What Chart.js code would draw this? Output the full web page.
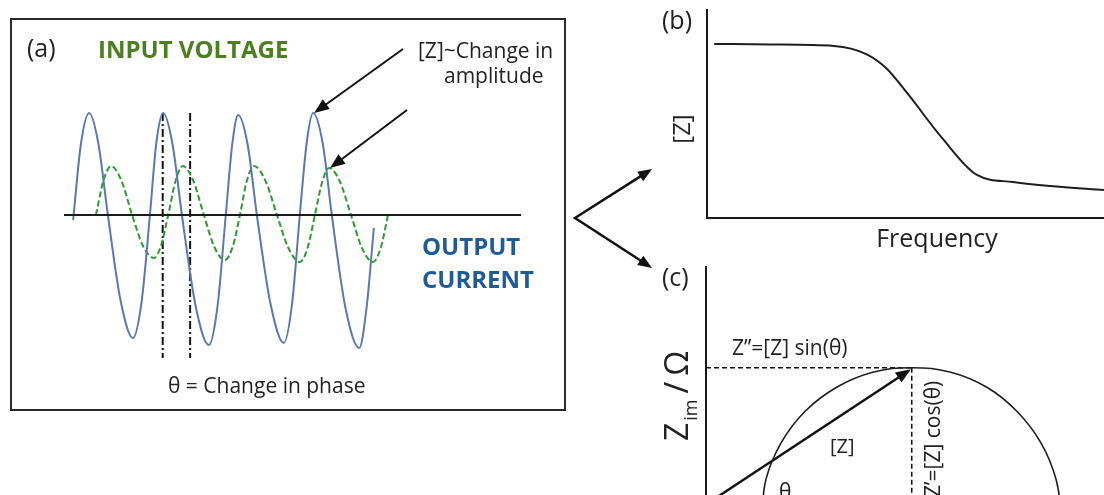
<!DOCTYPE html>
<html>
<head>
<meta charset="utf-8">
<title>Impedance: signals, |Z| vs frequency, Nyquist plot</title>
<script src="https://cdn.jsdelivr.net/npm/chart.js@4.4.1/dist/chart.umd.min.js"></script>
<style>
  html, body { margin: 0; padding: 0; background: #fff; width: 1104px; height: 495px; overflow: hidden; }
  canvas { position: absolute; left: 0; top: 0; }
</style>
</head>
<body>
<canvas id="waves" width="1104" height="495"></canvas>
<canvas id="bode" width="1104" height="495"></canvas>
<canvas id="nyquist" width="1104" height="540"></canvas>
<script>
// ---- (a) time-domain signals (time and amplitude in arbitrary units) ----
const timeAxis = [0, 10];
const currentT = [0.20, 0.37, 0.55, 0.75, 0.96, 1.24, 1.51, 1.70, 1.88, 2.02, 2.17, 2.37, 2.58, 2.88, 3.17, 3.36,
                  3.54, 3.68, 3.81, 4.02, 4.22, 4.52, 4.81, 4.99, 5.16, 5.31, 5.45, 5.66, 5.86, 6.16, 6.46, 6.62, 6.78];
const currentA = [-0.05, 0.71, 1.02, 0.72, 0, -0.86, -1.23, -0.86, 0, 0.72, 1.02, 0.72, 0, -0.91, -1.30, -0.91,
                  0, 0.70, 1.00, 0.70, 0, -0.89, -1.28, -0.89, 0, 0.72, 1.02, 0.72, 0, -0.93, -1.33, -0.93, -0.13];
const voltageT = [0.70, 0.86, 1.03, 1.26, 1.49, 1.73, 1.97, 2.12, 2.28, 2.44, 2.60, 2.83, 3.06, 3.29, 3.52, 3.69,
                  3.85, 4.00, 4.16, 4.41, 4.66, 4.91, 5.16, 5.33, 5.49, 5.65, 5.80, 6.04, 6.28, 6.52, 6.76, 6.93, 7.09];
const voltageA = [0, 0.34, 0.49, 0.34, 0, -0.31, -0.43, -0.31, 0, 0.34, 0.49, 0.34, 0, -0.32, -0.45, -0.32,
                  0, 0.34, 0.49, 0.34, 0, -0.33, -0.47, -0.33, 0, 0.33, 0.47, 0.33, 0, -0.33, -0.47, -0.33, 0];
const phaseMarkT = [2.16, 2.76];
const phaseMarkSpan = [1.02, -1.43];
const currentPeakIdx = 26;   // peak pointed at by the amplitude arrow
const voltagePeakIdx = 26;

// ---- (b) |Z| against frequency (arbitrary units) ----
const freq = [0.18, 1.59, 3.20, 4.01, 4.51, 5.04, 5.92, 6.80, 7.71, 8.64, 10.0];
const zMag = [8.37, 8.34, 8.27, 7.88, 7.21, 6.01, 3.85, 2.07, 1.73, 1.54, 1.35];

// ---- (c) Nyquist arc and the |Z| vector (Ω) ----
const zRe = [37, 40, 50, 66, 87, 111, 137, 163, 187, 207, 223, 233, 237];
const zIm = [0, 26, 50, 71, 87, 97, 100, 97, 87, 71, 50, 26, 0];
const vecRe = [0, 135];
const vecIm = [9, 98];
const markRe = 137;
const markIm = 100;

const pts = (xs, ys) => xs.map((v, i) => ({ x: v, y: ys[i] }));
const FONT = '"Open Sans", "DejaVu Sans", sans-serif';
const INK = '#222';

function txt(ctx, s, x, y, font, color, align, rot) {
  ctx.save();
  ctx.font = font;
  ctx.fillStyle = color || INK;
  ctx.textAlign = align || 'left';
  ctx.textBaseline = 'alphabetic';
  ctx.translate(x, y);
  if (rot) ctx.rotate(rot);
  ctx.fillText(s, 0, 0);
  ctx.restore();
}

function head(ctx, x1, y1, x2, y2, len, color) {
  const a = Math.atan2(y2 - y1, x2 - x1);
  const bx = x2 - len * Math.cos(a), by = y2 - len * Math.sin(a);
  const hw = len * 0.4;
  ctx.fillStyle = color;
  ctx.beginPath();
  ctx.moveTo(x2, y2);
  ctx.lineTo(bx + hw * Math.sin(a), by - hw * Math.cos(a));
  ctx.lineTo(bx - hw * Math.sin(a), by + hw * Math.cos(a));
  ctx.closePath();
  ctx.fill();
}

function arrow(ctx, x1, y1, x2, y2, w, len, color) {
  const a = Math.atan2(y2 - y1, x2 - x1);
  ctx.strokeStyle = color;
  ctx.lineWidth = w;
  ctx.setLineDash([]);
  ctx.beginPath();
  ctx.moveTo(x1, y1);
  ctx.lineTo(x2 - len * 0.8 * Math.cos(a), y2 - len * 0.8 * Math.sin(a));
  ctx.stroke();
  head(ctx, x1, y1, x2, y2, len, color);
}

const base = {
  responsive: false,
  animation: false,
  devicePixelRatio: 1,
  events: [],
  plugins: { legend: { display: false }, tooltip: { enabled: false } },
  elements: { point: { radius: 0 }, line: { borderCapStyle: 'butt' } }
};

// ---------- (a) ----------
const waveNotes = {
  id: 'waveNotes',
  afterDatasetsDraw(chart) {
    const { ctx, scales: { x, y } } = chart;
    ctx.save();
    ctx.strokeStyle = '#2a2a2a';
    ctx.lineWidth = 2;
    ctx.strokeRect(11, 19, 554, 391);

    txt(ctx, '(a)', 27, 57, `25px ${FONT}`);
    txt(ctx, 'INPUT VOLTAGE', 98, 58, `bold 24px ${FONT}`, '#4b7f1f');
    txt(ctx, '[Z]~Change in', 418, 58, `21px ${FONT}`);
    txt(ctx, 'amplitude', 444, 83, `21px ${FONT}`);
    txt(ctx, 'OUTPUT', 422, 255, `bold 24px ${FONT}`, '#1f5b98');
    txt(ctx, 'CURRENT', 422, 288, `bold 24px ${FONT}`, '#1f5b98');
    txt(ctx, '\u03B8 = Change in phase', 168, 393, `21px ${FONT}`);

    // arrows to the current and voltage peaks
    const cp = [x.getPixelForValue(currentT[currentPeakIdx]), y.getPixelForValue(currentA[currentPeakIdx])];
    const vp = [x.getPixelForValue(voltageT[voltagePeakIdx]), y.getPixelForValue(voltageA[voltagePeakIdx])];
    arrow(ctx, 403, 49, cp[0] + 1, cp[1], 2, 15, '#111');
    arrow(ctx, 407, 110, vp[0] + 1, vp[1], 2, 15, '#111');

    // branching connector towards (b) and (c)
    const jx = 575, jy = 218, t1 = [652, 169], t2 = [652, 268];
    const a1 = Math.atan2(t1[1] - jy, t1[0] - jx), a2 = Math.atan2(t2[1] - jy, t2[0] - jx);
    ctx.strokeStyle = '#111';
    ctx.lineWidth = 2.5;
    ctx.lineJoin = 'miter';
    ctx.beginPath();
    ctx.moveTo(t1[0] - 10 * Math.cos(a1), t1[1] - 10 * Math.sin(a1));
    ctx.lineTo(jx, jy);
    ctx.lineTo(t2[0] - 10 * Math.cos(a2), t2[1] - 10 * Math.sin(a2));
    ctx.stroke();
    head(ctx, jx, jy, t1[0], t1[1], 14, '#111');
    head(ctx, jx, jy, t2[0], t2[1], 14, '#111');
    ctx.restore();
  }
};

new Chart(document.getElementById('waves'), {
  type: 'line',
  data: {
    datasets: [
      { label: 'zero', data: pts(timeAxis, [0, 0]), borderColor: '#1b1b1b', borderWidth: 2, clip: false },
      { label: 'OUTPUT CURRENT', data: pts(currentT, currentA), borderColor: '#5a78b2', borderWidth: 2,
        cubicInterpolationMode: 'monotone', clip: false },
      { label: 'INPUT VOLTAGE', data: pts(voltageT, voltageA), borderColor: '#2f9a2f', borderWidth: 2,
        borderDash: [6, 3], cubicInterpolationMode: 'monotone', clip: false },
      ...phaseMarkT.map(t => ({
        label: 'phase', data: pts([t, t], phaseMarkSpan), borderColor: '#111', borderWidth: 2,
        borderDash: [8, 3, 2, 3], clip: false
      }))
    ]
  },
  options: {
    ...base,
    layout: { padding: { left: 64, right: 583, top: 105, bottom: 130 } },
    scales: {
      x: { type: 'linear', display: false, min: 0, max: 10 },
      y: { type: 'linear', display: false, min: -1.5, max: 1.1 }
    }
  },
  plugins: [waveNotes]
});

// ---------- (b) ----------
const axisStyle = {
  type: 'linear',
  grid: { display: false, drawTicks: false },
  ticks: { display: false },
  border: { display: true, color: '#1a1a1a', width: 2 }
};

const bodeNotes = {
  id: 'bodeNotes',
  afterDraw(chart) {
    const { ctx } = chart;
    txt(ctx, '(b)', 662, 29, `25px ${FONT}`);
    ctx.save();
    ctx.font = `24px ${FONT}`;
    ctx.fillStyle = INK;
    ctx.textAlign = 'center';
    ctx.textBaseline = 'middle';
    ctx.translate(683, 129);
    ctx.rotate(-Math.PI / 2);
    ctx.fillText('[Z]', 0, 0);
    ctx.restore();
    txt(ctx, 'Frequency', 937, 247, `25px ${FONT}`, INK, 'center');
  }
};

new Chart(document.getElementById('bode'), {
  type: 'line',
  data: {
    datasets: [
      { label: '[Z]', data: pts(freq, zMag), borderColor: '#1e1e1e', borderWidth: 2,
        cubicInterpolationMode: 'monotone', clip: false }
    ]
  },
  options: {
    ...base,
    layout: { padding: { left: 707, right: 0, top: 10, bottom: 277 } },
    scales: {
      x: { ...axisStyle, min: 0, max: 10 },
      y: { ...axisStyle, min: 0, max: 10 }
    }
  },
  plugins: [bodeNotes]
});

// ---------- (c) ----------
const nyquistNotes = {
  id: 'nyquistNotes',
  afterDraw(chart) {
    const { ctx, scales: { x, y } } = chart;
    ctx.save();
    head(ctx, x.getPixelForValue(vecRe[0]), y.getPixelForValue(vecIm[0]),
      x.getPixelForValue(vecRe[1]) + 2, y.getPixelForValue(vecIm[1]) - 1.5, 15, '#111');

    txt(ctx, '(c)', 662, 286, `25px ${FONT}`);
    txt(ctx, 'Z\u201D=[Z] sin(\u03B8)', 732, 355, `21px ${FONT}`);
    txt(ctx, '[Z]', 830, 453, `20px ${FONT}`);
    txt(ctx, '\u03B8', 779, 499, `21px ${FONT}`);
    txt(ctx, 'Z\u2019=[Z] cos(\u03B8)', 940, 497, `21px ${FONT}`, INK, 'left', -Math.PI / 2);

    // axis title: Z_im / Ω, reading upwards
    ctx.translate(688, 441);
    ctx.rotate(-Math.PI / 2);
    ctx.fillStyle = INK;
    ctx.textBaseline = 'alphabetic';
    ctx.textAlign = 'left';
    ctx.font = `32px ${FONT}`;
    ctx.fillText('Z', 0, 0);
    let w = ctx.measureText('Z').width + 2;
    ctx.font = `18px ${FONT}`;
    ctx.fillText('im', w, 9);
    w += ctx.measureText('im').width + 6;
    ctx.font = `32px ${FONT}`;
    ctx.fillText('/', w, 0);
    w += ctx.measureText('/').width + 6;
    ctx.fillText('\u03A9', w, 0);
    ctx.restore();
  }
};

new Chart(document.getElementById('nyquist'), {
  type: 'line',
  data: {
    datasets: [
      { label: 'arc', data: pts(zRe, zIm), borderColor: '#1e1e1e', borderWidth: 1.6, tension: 0.4, clip: false },
      { label: '[Z]', data: pts(vecRe, vecIm), borderColor: '#111', borderWidth: 2.5, clip: false },
      { label: 'Z\u201D', data: pts([0, markRe], [markIm, markIm]), borderColor: '#111', borderWidth: 1.5,
        borderDash: [5, 3], clip: false },
      { label: 'Z\u2019', data: pts([markRe, markRe], [markIm, 0]), borderColor: '#111', borderWidth: 1.5,
        borderDash: [5, 3], clip: false }
    ]
  },
  options: {
    ...base,
    layout: { padding: { left: 706, right: 0, top: 267, bottom: 22 } },
    scales: {
      x: { ...axisStyle, min: 0, max: 265 },
      y: { ...axisStyle, min: 0, max: 167 }
    }
  },
  plugins: [nyquistNotes]
});
</script>
</body>
</html>
